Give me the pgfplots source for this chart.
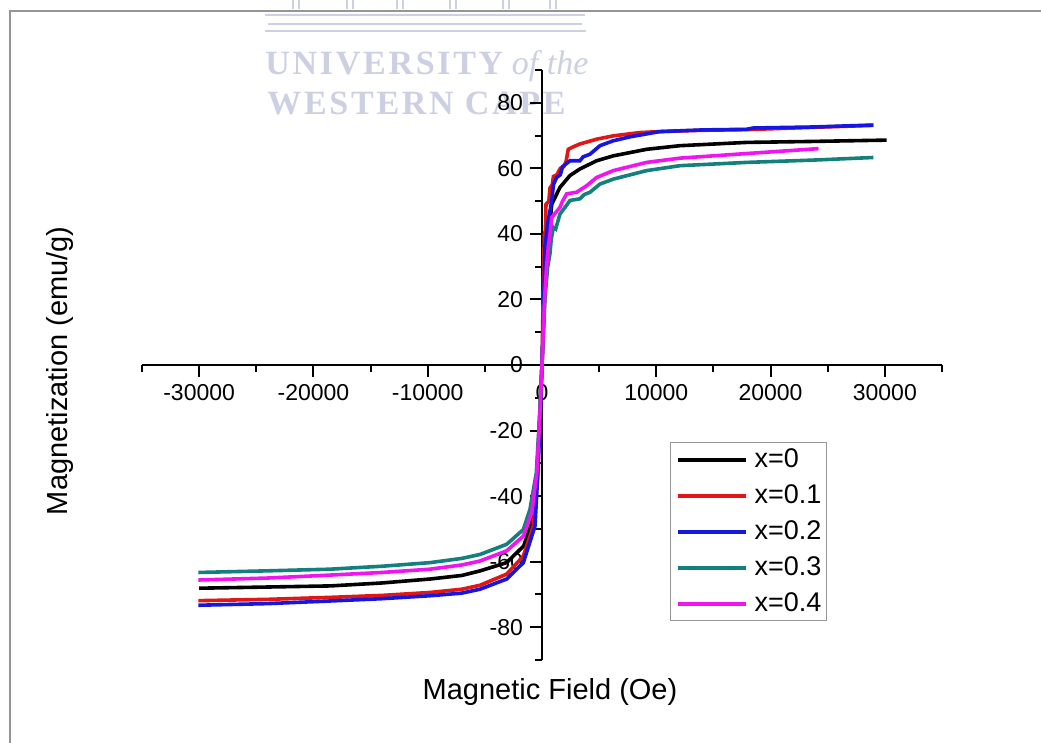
\documentclass[border=0pt]{standalone}
\usepackage{fontspec}
\setmainfont{Liberation Sans}
\newfontfamily\wmfont{Liberation Serif}
\usepackage{pgfplots}
\pgfplotsset{compat=1.18}

\definecolor{cred}{RGB}{225,22,22}
\definecolor{cblue}{RGB}{22,22,225}
\definecolor{cteal}{RGB}{20,128,125}
\definecolor{cmag}{RGB}{240,20,240}
\definecolor{wm}{RGB}{205,208,226}
\definecolor{framegray}{RGB}{150,150,150}

\begin{document}
\begin{tikzpicture}
\path[use as bounding box] (-71pt,-41.5pt) rectangle (449.5pt,330pt);
\fill[white] (-71pt,-41.5pt) rectangle (449.5pt,330pt);
% page frame
\draw[framegray, line width=0.6pt] (-66pt,-60pt) -- (-66pt,324.5pt) -- (470pt,324.5pt);
% watermark
\foreach \px in {75.5,102.5,127.5,154,180.5,204}
  \draw[wm, line width=0.9pt] (\px pt,325.5pt) -- (\px pt,331pt) (\px pt+3pt,325.5pt) -- (\px pt+3pt,331pt);
\draw[wm, line width=1.2pt] (61.5pt,322.5pt) -- (221.5pt,322.5pt);
\draw[wm, line width=1.2pt] (63pt,318pt) -- (220pt,318pt);
\draw[wm, line width=1.2pt] (61.5pt,314.5pt) -- (222pt,314.5pt);
\node[anchor=base west, text=wm, inner sep=0pt] at (61.5pt,292.5pt)
  {\wmfont\bfseries\fontsize{17}{17}\selectfont{\addfontfeatures{LetterSpace=8}UNIVERSITY} \mdseries\itshape of the};
\node[anchor=base west, text=wm, inner sep=0pt] at (62.5pt,272.5pt)
  {\wmfont\bfseries\fontsize{17}{17}\selectfont\addfontfeatures{LetterSpace=8}WESTERN CAPE};

\begin{axis}[
    at={(0,0)}, anchor=south west,
    scale only axis, width=400pt, height=295pt,
    xmin=-35000, xmax=35000,
    ymin=-90, ymax=90,
    axis lines=middle,
    axis line style={-, line width=1pt},
    xtick={-30000,-20000,...,30000},
    minor xtick={-35000,-25000,...,35000},
    ytick={-80,-60,...,80},
    minor ytick={-90,-70,...,90},
    tick align=outside,
    major tick length=6pt, minor tick length=3.5pt,
    every tick/.style={black, line width=1pt},
    hide obscured x ticks=false, hide obscured y ticks=false,
    scaled ticks=false,
    /pgf/number format/1000 sep={},
    /pgf/number format/assume math mode=true,
    tick label style={font=\fontsize{11.5}{13}\selectfont},
    xlabel={Magnetic Field (Oe)},
    ylabel={Magnetization (emu/g)},
    label style={font=\fontsize{14.5}{17}\selectfont},
    xlabel style={at={(rel axis cs:0.51,-0.054)}, anchor=center},
    ylabel style={at={(rel axis cs:-0.1025,0.49)}, anchor=center, rotate=90},
    legend style={at={(rel axis cs:0.66,0.3695)}, anchor=north west,
        draw=framegray, line width=0.6pt, inner sep=2.5pt,
        font=\fontsize{13.5}{16}\selectfont,
        nodes={inner sep=0pt, text height=10pt, text depth=2pt},
        row sep=6pt, column sep=3.5pt},
    legend cell align=left,
    legend image code/.code={\draw[#1, line width=2pt] (0pt,0pt) -- (34pt,0pt);},
]
% x = 0
\addplot[color=black, line width=1.8pt] coordinates {
(-30000,-68.1) (-25000,-67.8) (-18500,-67.4) (-14000,-66.5) (-9800,-65.3) (-7000,-64.2)
(-5400,-62.8) (-3100,-60.3) (-1600,-55.2) (-900,-48.1) (-500,-38) (-250,-20) (0,0)
(250,22) (500,36) (850,49) (1575,54.2) (2450,57.8) (3320,59.8) (4780,62.3) (6240,63.8)
(9160,65.8) (12070,66.9) (17900,67.9) (23700,68.2) (30150,68.6)
};
% x = 0.1
\addplot[color=cred, line width=1.8pt] coordinates {
(-30070,-71.9) (-24000,-71.5) (-18550,-70.9) (-14000,-70.3) (-9800,-69.4) (-7000,-68.4)
(-5420,-67.2) (-3090,-63.8) (-1630,-58.3) (-760,-49.1) (-400,-35) (-200,-18) (0,0)
(100,20) (150,30) (200,40) (300,41) (350,49) (600,50) (700,54) (900,55) (1000,57.5)
(1300,58) (1600,60) (1900,60.5) (2100,62) (2300,65.8) (2700,66.5) (3300,67.4) (4800,68.9)
(6240,69.9) (8570,70.9) (10300,71.2) (14000,71.6) (17900,71.8) (23700,72.5) (29000,73.1)
};
% x = 0.2
\addplot[color=cblue, line width=1.8pt] coordinates {
(-30070,-73.3) (-24000,-72.8) (-18550,-72) (-14000,-71.3) (-9800,-70.4) (-7000,-69.6)
(-5420,-68.4) (-3090,-65.3) (-1630,-60.3) (-610,-49.1) (-350,-32) (-150,-15) (0,0)
(150,18) (260,36) (500,43) (850,50) (1000,55) (1280,57.2) (1600,58) (1800,60.5)
(2450,62.3) (3320,62.3) (3600,63.5) (4200,64.3) (5070,66.9) (6240,68.4) (7700,69.6)
(10300,71.2) (14000,71.7) (17900,71.9) (18500,72.3) (23700,72.6) (29000,73.2)
};
% x = 0.3
\addplot[color=cteal, line width=1.8pt] coordinates {
(-30070,-63.3) (-24000,-62.8) (-18550,-62.3) (-14000,-61.4) (-9800,-60.3) (-7000,-59)
(-5420,-57.8) (-3090,-54.7) (-1630,-50.2) (-1050,-44) (-500,-33) (-250,-18) (0,0)
(250,20) (500,30) (700,34) (800,38) (990,42) (1200,41.5) (1575,46.1) (2000,48)
(2450,50.2) (3320,50.7) (3700,52) (4200,52.7) (5070,55.2) (6240,56.7) (9160,59.3)
(12070,60.8) (17900,61.8) (23700,62.5) (29000,63.3)
};
% x = 0.4
\addplot[color=cmag, line width=1.8pt] coordinates {
(-30070,-65.6) (-24000,-65) (-18550,-64.1) (-14000,-63.3) (-9800,-62.3) (-7000,-61)
(-5420,-59.8) (-3090,-56.7) (-1630,-52.2) (-900,-45) (-450,-33) (-220,-18) (0,0)
(220,20) (400,30) (550,36) (700,40) (850,45) (1575,48.1) (1800,50) (2160,52.2)
(3030,52.7) (3910,54.7) (4780,57.2) (6240,59.3) (9160,61.8) (12070,63.1) (17900,64.5)
(24200,66.0)
};
\legend{x=0,x=0.1,x=0.2,x=0.3,x=0.4}
\end{axis}
\end{tikzpicture}
\end{document}
